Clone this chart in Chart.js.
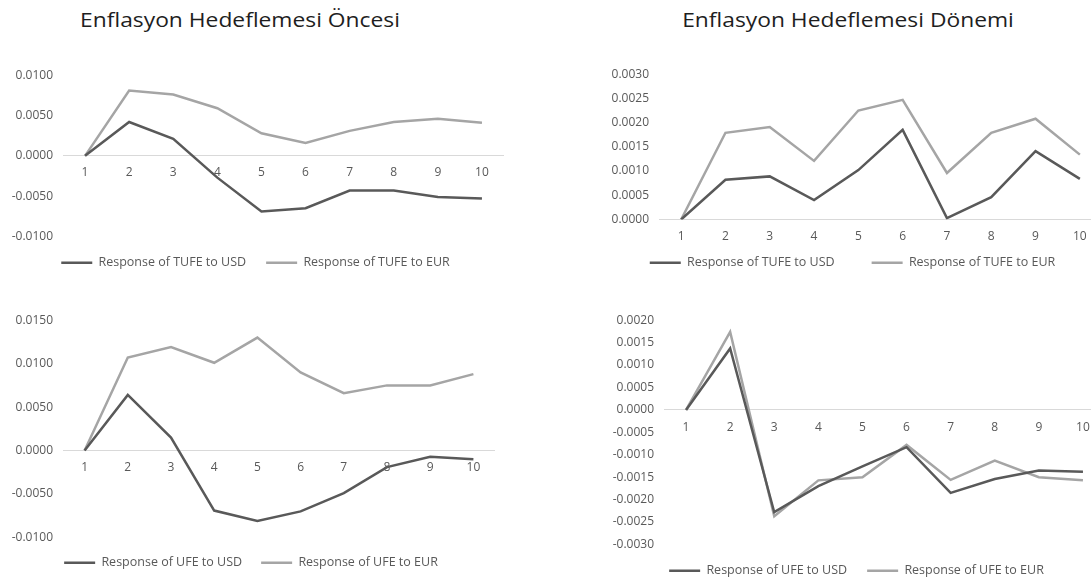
<!DOCTYPE html>
<html>
<head>
<meta charset="utf-8">
<script src="https://cdn.jsdelivr.net/npm/chart.js@4.4.1/dist/chart.umd.min.js"></script>
<style>
  html, body { margin: 0; padding: 0; background: #fff; overflow: hidden; }
  body { width: 1091px; height: 583px; position: relative; }
  .title { position: absolute; top: 6px; font-family: 'Open Sans', sans-serif; font-size: 20px; color: #1e1e1e; white-space: nowrap; transform: translateX(-50%) scaleX(1.14); }
  .box { position: absolute; }
</style>
</head>
<body>
<div class="title" style="left:240px">Enflasyon Hedeflemesi Öncesi</div>
<div class="title" style="left:848px">Enflasyon Hedeflemesi Dönemi</div>

<div class="box" style="left:7px;top:58px;width:497px;height:226px"><canvas id="c1"></canvas></div>
<div class="box" style="left:603px;top:57px;width:499px;height:227px"><canvas id="c2"></canvas></div>
<div class="box" style="left:7px;top:303px;width:488px;height:281px"><canvas id="c3"></canvas></div>
<div class="box" style="left:608px;top:303px;width:497px;height:289px"><canvas id="c4"></canvas></div>

<script>
// setup
const periods = ['1', '2', '3', '4', '5', '6', '7', '8', '9', '10'];

// Enflasyon Hedeflemesi Öncesi - TUFE
const tufeUsdBefore = [0, 0.0042, 0.0021, -0.0027, -0.0069, -0.0065, -0.0043, -0.0043, -0.0051, -0.0053];
const tufeEurBefore = [0, 0.0081, 0.0076, 0.0059, 0.0028, 0.0016, 0.0031, 0.0042, 0.0046, 0.0041];

// Enflasyon Hedeflemesi Dönemi - TUFE
const tufeUsdDuring = [0, 0.00082, 0.00089, 0.00040, 0.00102, 0.00185, 0.00003, 0.00046, 0.00141, 0.00084];
const tufeEurDuring = [0, 0.00179, 0.00191, 0.00121, 0.00225, 0.00247, 0.00096, 0.00179, 0.00208, 0.00134];

// Enflasyon Hedeflemesi Öncesi - UFE
const ufeUsdBefore = [0, 0.0064, 0.0015, -0.0069, -0.0081, -0.0070, -0.0049, -0.0019, -0.0007, -0.0010];
const ufeEurBefore = [0, 0.0107, 0.0119, 0.0101, 0.0130, 0.0090, 0.0066, 0.0075, 0.0075, 0.0088];

// Enflasyon Hedeflemesi Dönemi - UFE
const ufeUsdDuring = [0, 0.00137, -0.00228, -0.00170, -0.00126, -0.00083, -0.00185, -0.00154, -0.00135, -0.00138];
const ufeEurDuring = [0, 0.00174, -0.00237, -0.00157, -0.00150, -0.00078, -0.00156, -0.00113, -0.00150, -0.00157];

// y ranges [min, max, step]
const range1 = [-0.01, 0.01, 0.005];
const range2 = [0, 0.003, 0.0005];
const range3 = [-0.01, 0.015, 0.005];
const range4 = [-0.003, 0.002, 0.0005];

Chart.defaults.font.family = "'Open Sans', sans-serif";
Chart.defaults.color = '#595959';

const darkGrey = '#595959';
const lightGrey = '#a5a5a5';

function makeChart(id, usd, eur, names, range, legendPad) {
  return new Chart(document.getElementById(id), {
    type: 'line',
    data: {
      labels: periods,
      datasets: [
        { label: names[0], data: usd, borderColor: darkGrey, backgroundColor: darkGrey,
          borderWidth: 2.5, pointRadius: 0, tension: 0 },
        { label: names[1], data: eur, borderColor: lightGrey, backgroundColor: lightGrey,
          borderWidth: 2.5, pointRadius: 0, tension: 0 }
      ]
    },
    options: {
      responsive: true,
      maintainAspectRatio: false,
      animation: false,
      layout: { padding: { left: 0, right: 0, top: 10, bottom: 5 } },
      plugins: {
        tooltip: { enabled: false },
        legend: {
          position: 'bottom',
          labels: {
            usePointStyle: true,
            pointStyle: 'line',
            pointStyleWidth: 31,
            padding: legendPad,
            color: '#595959',
            font: { size: 12.5 }
          }
        }
      },
      scales: {
        x: {
          position: { y: 0 },
          offset: true,
          grid: { display: false, drawTicks: false },
          border: { display: true, color: '#d9d9d9', width: 1 },
          ticks: { padding: 10, font: { size: 12 }, maxRotation: 0 }
        },
        y: {
          min: range[0],
          max: range[1],
          grid: { display: false, drawTicks: false },
          border: { display: false },
          ticks: {
            stepSize: range[2],
            padding: 10,
            font: { size: 12 },
            callback: v => v.toFixed(4)
          },
          afterFit: scale => { scale.width = 56; }
        }
      }
    }
  });
}

makeChart('c1', tufeUsdBefore, tufeEurBefore, ['Response of TUFE to USD', 'Response of TUFE to EUR'], range1, 20);
makeChart('c2', tufeUsdDuring, tufeEurDuring, ['Response of TUFE to USD', 'Response of TUFE to EUR'], range2, 37);
makeChart('c3', ufeUsdBefore, ufeEurBefore, ['Response of UFE to USD', 'Response of UFE to EUR'], range3, 19);
makeChart('c4', ufeUsdDuring, ufeEurDuring, ['Response of UFE to USD', 'Response of UFE to EUR'], range4, 20);
</script>
</body>
</html>
